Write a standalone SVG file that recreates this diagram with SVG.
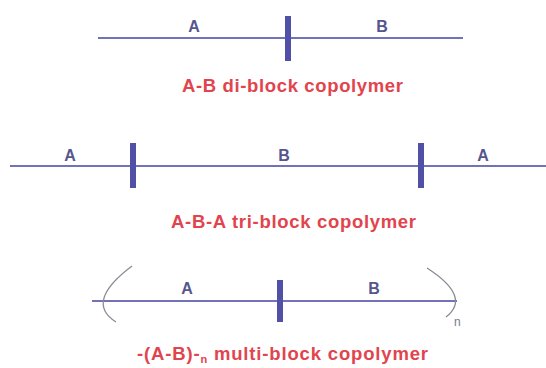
<svg xmlns="http://www.w3.org/2000/svg" width="546" height="368" viewBox="0 0 546 368">
  <style>
    .chain { stroke: #7272b8; stroke-width: 2; fill: none; }
    .junction { stroke: #5050a6; stroke-width: 6; }
    .paren { stroke: #8a8a98; stroke-width: 1.3; fill: none; }
    .block { font-family: "Liberation Sans", Arial, sans-serif; font-weight: bold; font-size: 16px; fill: #56568e; text-anchor: middle; }
    .title { font-family: "Liberation Sans", Arial, sans-serif; font-weight: bold; font-size: 18.5px; fill: #e2444e; }
    .sub { font-family: "Liberation Sans", Arial, sans-serif; font-size: 12px; fill: #7a7a88; }
  </style>
  <rect width="546" height="368" fill="#ffffff"/>

  <!-- A-B diblock -->
  <g id="diblock">
    <line class="chain" x1="98" y1="38" x2="463" y2="38"/>
    <line class="junction" x1="288" y1="16" x2="288" y2="61"/>
    <text class="block" x="194" y="32">A</text>
    <text class="block" x="382" y="32">B</text>
    <text class="title" x="182" y="92" textLength="221" lengthAdjust="spacing">A-B di-block copolymer</text>
  </g>

  <!-- A-B-A triblock -->
  <g id="triblock">
    <line class="chain" x1="10" y1="166" x2="546" y2="166"/>
    <line class="junction" x1="133" y1="143" x2="133" y2="188"/>
    <line class="junction" x1="421" y1="143" x2="421" y2="188"/>
    <text class="block" x="70" y="161">A</text>
    <text class="block" x="284" y="161">B</text>
    <text class="block" x="483" y="161">A</text>
    <text class="title" x="171" y="228" textLength="245" lengthAdjust="spacing">A-B-A tri-block copolymer</text>
  </g>

  <!-- -(A-B)-n multiblock -->
  <g id="multiblock">
    <line class="chain" x1="92" y1="301" x2="457" y2="301"/>
    <path class="paren" d="M132,266 Q84,302 116,322"/>
    <path class="paren" d="M427,268 Q472,297 446,317"/>
    <text class="sub" x="454" y="326">n</text>
    <line class="junction" x1="280" y1="280" x2="280" y2="322"/>
    <text class="block" x="187" y="294">A</text>
    <text class="block" x="374" y="294">B</text>
    <text class="title" x="137" y="360" textLength="291" lengthAdjust="spacing">-(A-B)-<tspan font-size="11" dy="3">n</tspan><tspan dy="-3"> multi-block copolymer</tspan></text>
  </g>
</svg>
